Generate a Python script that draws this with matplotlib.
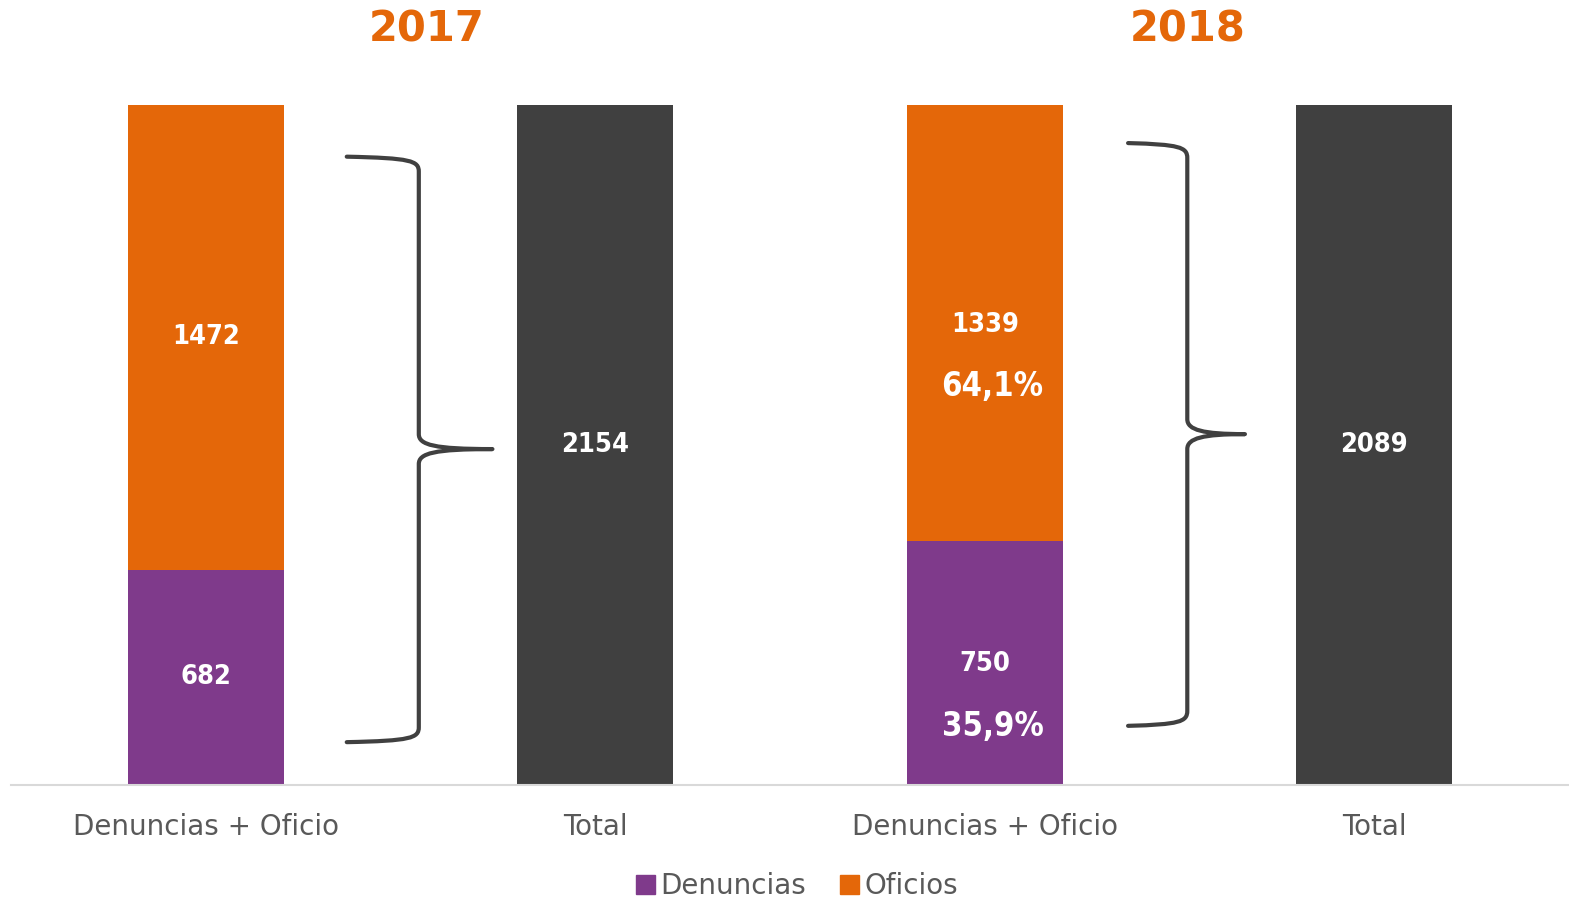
import numpy as np
import matplotlib.pyplot as plt
from matplotlib.path import Path
from matplotlib.patches import PathPatch, Patch

# data
years = ['2017', '2018']
categories = ['Denuncias + Oficio', 'Total', 'Denuncias + Oficio', 'Total']
denuncias = [682, 750]
oficios = [1472, 1339]
totals = [2154, 2089]
pct_labels = {2: ('64,1%', '35,9%')}   # only 2018 shows percentages

c_den = '#7F3A8B'
c_ofi = '#E46709'
c_tot = '#404040'
c_txt = '#595959'

fig = plt.figure(figsize=(15.69, 9.02), dpi=100)
ax = fig.add_axes([11 / 1569, 1 - 785 / 902, 1 - 11 / 1569, (785 - 105) / 902])
ax.set_xlim(-0.5, 3.5)
ax.set_ylim(0, 1)

nf = dict(color='white', fontweight='bold', family='DejaVu Sans',
          fontstretch='condensed', ha='center', va='center')
w = 0.4
for i in range(2):
    t = totals[i]
    xs = 2 * i
    d = denuncias[i] / t
    o = oficios[i] / t
    ax.bar(xs, d, w, color=c_den)
    ax.bar(xs, o, w, bottom=d, color=c_ofi)
    ax.bar(xs + 1, 1.0, w, color=c_tot)
    if xs in pct_labels:
        p_o, p_d = pct_labels[xs]
        ax.text(xs, d + o / 2 - 0.003, str(oficios[i]), fontsize=19.5, **nf)
        ax.text(xs + 0.02, d + o / 2 - 0.094, p_o, fontsize=23.5, **nf)
        ax.text(xs, d / 2 - 0.002, str(denuncias[i]), fontsize=19.5, **nf)
        ax.text(xs + 0.02, d / 2 - 0.094, p_d, fontsize=23.5, **nf)
    else:
        ax.text(xs, d + o / 2, str(oficios[i]), fontsize=19.5, **nf)
        ax.text(xs, d / 2, str(denuncias[i]), fontsize=19.5, **nf)
    ax.text(xs + 1, 0.5, str(t), fontsize=19.5, **nf)


def brace(ax, x0, xv, xt, ytop, ybot, ytip, r=0.022):
    verts = [
        (x0, ytop),
        (xv - 0.02, ytop - 0.002), (xv, ytop - 0.006), (xv, ytop - r),
        (xv, ytip + r),
        (xv, ytip + 0.006), (xv + 0.04, ytip), (xt, ytip),
        (xv + 0.04, ytip), (xv, ytip - 0.006), (xv, ytip - r),
        (xv, ybot + r),
        (xv, ybot + 0.006), (xv - 0.02, ybot + 0.002), (x0, ybot),
    ]
    codes = [Path.MOVETO,
             Path.CURVE4, Path.CURVE4, Path.CURVE4,
             Path.LINETO,
             Path.CURVE4, Path.CURVE4, Path.CURVE4,
             Path.CURVE4, Path.CURVE4, Path.CURVE4,
             Path.LINETO,
             Path.CURVE4, Path.CURVE4, Path.CURVE4]
    ax.add_patch(PathPatch(Path(verts, codes), facecolor='none',
                           edgecolor='#404040', lw=3, capstyle='round',
                           joinstyle='round'))


brace(ax, 0.362, 0.547, 0.736, 0.924, 0.063, 0.494)
brace(ax, 2.368, 2.520, 2.668, 0.944, 0.087, 0.516)

for s in ['top', 'right', 'left']:
    ax.spines[s].set_visible(False)
ax.spines['bottom'].set_color('#D9D9D9')
ax.spines['bottom'].set_linewidth(1.5)
ax.set_yticks([])
ax.set_xticks(range(4))
ax.set_xticklabels(categories, fontsize=20, color=c_txt)
ax.tick_params(axis='x', length=0, pad=20)

fig.text(427 / 1569, 1 - 30 / 902, years[0], ha='center', va='center',
         color=c_ofi, fontsize=30, fontweight='bold')
fig.text(1188 / 1569, 1 - 30 / 902, years[1], ha='center', va='center',
         color=c_ofi, fontsize=30, fontweight='bold')

handles = [Patch(color=c_den, label='Denuncias'), Patch(color=c_ofi, label='Oficios')]
fig.legend(handles=handles, loc='center', bbox_to_anchor=(797 / 1569, 1 - 886 / 902),
           ncol=2, frameon=False, fontsize=20, labelcolor=c_txt,
           handlelength=0.7, handleheight=0.7, handletextpad=0.2, columnspacing=1.2)

fig.savefig('out.png', dpi=100)
